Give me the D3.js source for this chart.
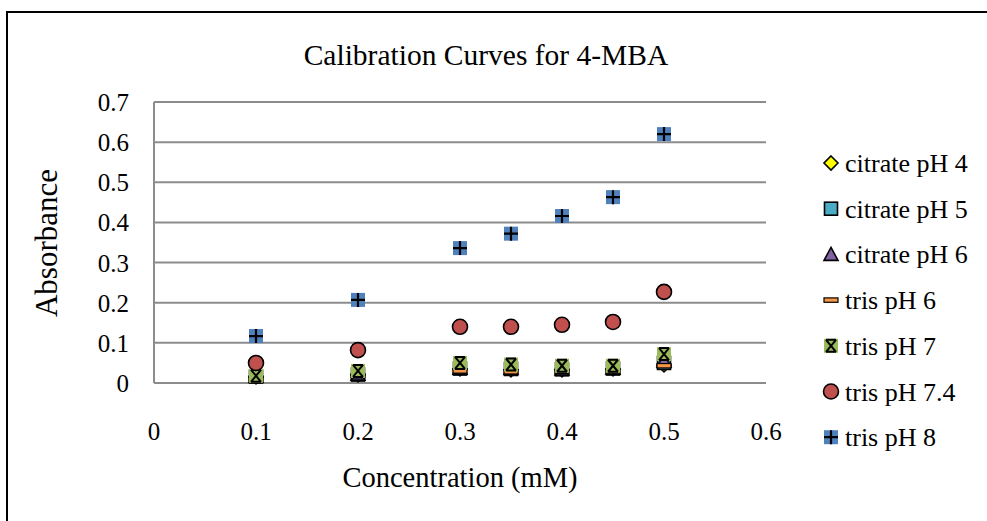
<!DOCTYPE html>
<html>
<head>
<meta charset="utf-8">
<script src="https://cdn.jsdelivr.net/npm/d3@7"></script>
<style>
  body { margin: 0; background: #fff; }
  text { font-family: "Liberation Serif", "Times New Roman", serif; fill: #000; }
</style>
</head>
<body>
<script>
// concentrations (mM)
const conc = [0.1, 0.2, 0.3, 0.35, 0.4, 0.45, 0.5];

const citrate4 = [0.015, 0.02, 0.035, 0.033, 0.033, 0.035, 0.045];
const citrate5 = [0.016, 0.021, 0.036, 0.035, 0.034, 0.036, 0.05];
const citrate6 = [0.017, 0.022, 0.037, 0.036, 0.035, 0.037, 0.055];
const tris6 = [0.012, 0.018, 0.03, 0.028, 0.029, 0.03, 0.043];
const tris7 = [0.018, 0.03, 0.05, 0.046, 0.043, 0.043, 0.072];
const tris74 = [0.05, 0.082, 0.14, 0.14, 0.145, 0.152, 0.227];
const tris8 = [0.117, 0.207, 0.336, 0.372, 0.416, 0.463, 0.62];

const seriesNames = ['citrate pH 4', 'citrate pH 5', 'citrate pH 6', 'tris pH 6', 'tris pH 7', 'tris pH 7.4', 'tris pH 8'];
const seriesValues = [citrate4, citrate5, citrate6, tris6, tris7, tris74, tris8];
const markerKinds = ['diamond', 'square', 'triangle', 'dash', 'star', 'circle', 'plus'];
const markerColors = ['#FFFF00', '#4BACC6', '#8064A2', '#F79646', '#9BBB59', '#C0504D', '#4F81BD'];

const xTicks = [0, 0.1, 0.2, 0.3, 0.4, 0.5, 0.6];
const yTicks = [0, 0.1, 0.2, 0.3, 0.4, 0.5, 0.6, 0.7];

const W = 987, H = 521;
const plot = {left: 154, right: 766, top: 102, bottom: 383};

const svg = d3.select('body').append('svg')
  .attr('width', W)
  .attr('height', H);

// outer chart frame (runs off the bottom/right of the picture)
svg.append('rect')
  .attr('x', 7).attr('y', 12)
  .attr('width', 1000).attr('height', 600)
  .attr('fill', 'none')
  .attr('stroke', '#000')
  .attr('stroke-width', 2);

const x = d3.scaleLinear().domain([0, 0.6]).range([plot.left, plot.right]);
const y = d3.scaleLinear().domain([0, 0.7]).range([plot.bottom, plot.top]);

// gridlines
svg.append('g')
  .selectAll('line')
  .data(yTicks)
  .enter().append('line')
  .attr('x1', plot.left).attr('x2', plot.right)
  .attr('y1', d => y(d)).attr('y2', d => y(d))
  .attr('stroke', '#8c8c8c')
  .attr('stroke-width', 2);

svg.append('line')
  .attr('x1', plot.left).attr('x2', plot.left)
  .attr('y1', plot.top).attr('y2', plot.bottom)
  .attr('stroke', '#8c8c8c')
  .attr('stroke-width', 2);

// tick labels
svg.append('g')
  .selectAll('text')
  .data(yTicks)
  .enter().append('text')
  .attr('x', 129)
  .attr('y', d => y(d) + 9)
  .attr('text-anchor', 'end')
  .style('font-size', '25px')
  .text(d => d);

svg.append('g')
  .selectAll('text')
  .data(xTicks)
  .enter().append('text')
  .attr('x', d => x(d))
  .attr('y', 440)
  .attr('text-anchor', 'middle')
  .style('font-size', '25px')
  .text(d => d);

// titles
svg.append('text')
  .attr('x', 486).attr('y', 65)
  .attr('text-anchor', 'middle')
  .style('font-size', '29.5px')
  .text('Calibration Curves for 4-MBA');

svg.append('text')
  .attr('transform', 'translate(57,243) rotate(-90)')
  .attr('text-anchor', 'middle')
  .style('font-size', '31px')
  .text('Absorbance');

svg.append('text')
  .attr('x', 460).attr('y', 487)
  .attr('text-anchor', 'middle')
  .style('font-size', '28.5px')
  .text('Concentration (mM)');

// marker drawing, k scales the glyph
function drawMarker(g, kind, color) {
  const k = 7;
  if (kind === 'diamond') {
    g.append('path').attr('d', `M0,${-k}L${k},0L0,${k}L${-k},0Z`)
      .attr('fill', color).attr('stroke', '#000').attr('stroke-width', 1.6);
  } else if (kind === 'square') {
    g.append('rect').attr('x', -6.5).attr('y', -6.5).attr('width', 13).attr('height', 13)
      .attr('fill', color).attr('stroke', '#000').attr('stroke-width', 1.6);
  } else if (kind === 'triangle') {
    g.append('path').attr('d', `M0,${-k}L${k},6L${-k},6Z`)
      .attr('fill', color).attr('stroke', '#000').attr('stroke-width', 1.6);
  } else if (kind === 'dash') {
    g.append('rect').attr('x', -7).attr('y', -2.2).attr('width', 14).attr('height', 4.4)
      .attr('fill', color).attr('stroke', '#000').attr('stroke-width', 1.2);
  } else if (kind === 'star') {
    g.append('rect').attr('x', -k).attr('y', -k).attr('width', 2 * k).attr('height', 2 * k)
      .attr('fill', color);
    g.append('path').attr('d', 'M-5,-6L5,6M5,-6L-5,6M-5,-6H5M-5,6H5')
      .attr('stroke', '#000').attr('stroke-width', 2).attr('fill', 'none');
  } else if (kind === 'circle') {
    g.append('circle').attr('r', 7.5)
      .attr('fill', color).attr('stroke', '#000').attr('stroke-width', 1.6);
  } else if (kind === 'plus') {
    g.append('rect').attr('x', -k).attr('y', -k).attr('width', 2 * k).attr('height', 2 * k)
      .attr('fill', color);
    g.append('path').attr('d', `M${-k},0H${k}M0,${-k}V${k}`)
      .attr('stroke', '#000').attr('stroke-width', 2.2).attr('fill', 'none');
  }
}

// points
seriesValues.forEach((vals, i) => {
  const g = svg.append('g').attr('class', 'series');
  vals.forEach((v, j) => {
    const m = g.append('g').attr('transform', `translate(${x(conc[j])},${y(v)})`);
    drawMarker(m, markerKinds[i], markerColors[i]);
  });
});

// legend
const legend = svg.append('g');
seriesNames.forEach((name, i) => {
  const ly = 163 + i * 45.7;
  const m = legend.append('g').attr('transform', `translate(831,${ly})`);
  drawMarker(m, markerKinds[i], markerColors[i]);
  legend.append('text')
    .attr('x', 845).attr('y', ly + 9)
    .style('font-size', '26px')
    .text(name);
});
</script>
</body>
</html>
